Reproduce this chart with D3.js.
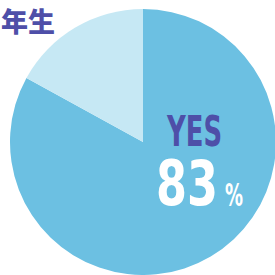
<!DOCTYPE html>
<html lang="ja">
<head>
  <meta charset="UTF-8">
  <title>YES 83%</title>
  <style>
    body { margin: 0; background: #fff; }
    svg { display: block; }
  </style>
  <script src="https://d3js.org/d3.v7.min.js"></script>
</head>
<body>
<div id="chart"></div>
<script>
  // data
  var labels = ["YES", "NO"];
  var values = [83, 17];
  var colors = ["#6cc0e2", "#c6e8f4"];
  var title = "年生";

  var width = 275, height = 275;
  var cx = 143, cy = 142, radius = 133;

  var svg = d3.select("#chart").append("svg")
    .attr("width", width)
    .attr("height", height);

  var pie = d3.pie().sort(null).value(d => d);
  var arc = d3.arc().innerRadius(0).outerRadius(radius);

  var g = svg.append("g").attr("transform", `translate(${cx},${cy})`);

  g.selectAll("path")
    .data(pie(values))
    .enter().append("path")
    .attr("d", arc)
    .attr("fill", (d, i) => colors[i]);

  // title top-left
  svg.append("text")
    .attr("x", 1)
    .attr("y", 32)
    .attr("font-family", "'Noto Sans CJK JP', sans-serif")
    .attr("font-weight", "900")
    .attr("font-size", 27)
    .attr("fill", "#4e4fa8")
    .text(title);

  // big label in the YES slice
  var cond = "'Liberation Sans Narrow', 'DejaVu Sans Condensed', sans-serif";
  svg.append("text")
    .attr("x", 167)
    .attr("y", 146)
    .attr("font-family", cond)
    .attr("font-weight", "bold")
    .attr("font-size", 42)
    .attr("textLength", 55)
    .attr("lengthAdjust", "spacingAndGlyphs")
    .attr("fill", "#4e4fa8")
    .text(labels[0]);

  svg.append("text")
    .attr("x", 156)
    .attr("y", 205)
    .attr("font-family", cond)
    .attr("font-weight", "bold")
    .attr("font-size", 62)
    .attr("textLength", 62)
    .attr("lengthAdjust", "spacingAndGlyphs")
    .attr("fill", "#fff")
    .text(values[0]);

  svg.append("text")
    .attr("x", 225)
    .attr("y", 206)
    .attr("font-family", cond)
    .attr("font-weight", "bold")
    .attr("font-size", 32)
    .attr("textLength", 18)
    .attr("lengthAdjust", "spacingAndGlyphs")
    .attr("fill", "#fff")
    .text("%");
</script>
</body>
</html>
